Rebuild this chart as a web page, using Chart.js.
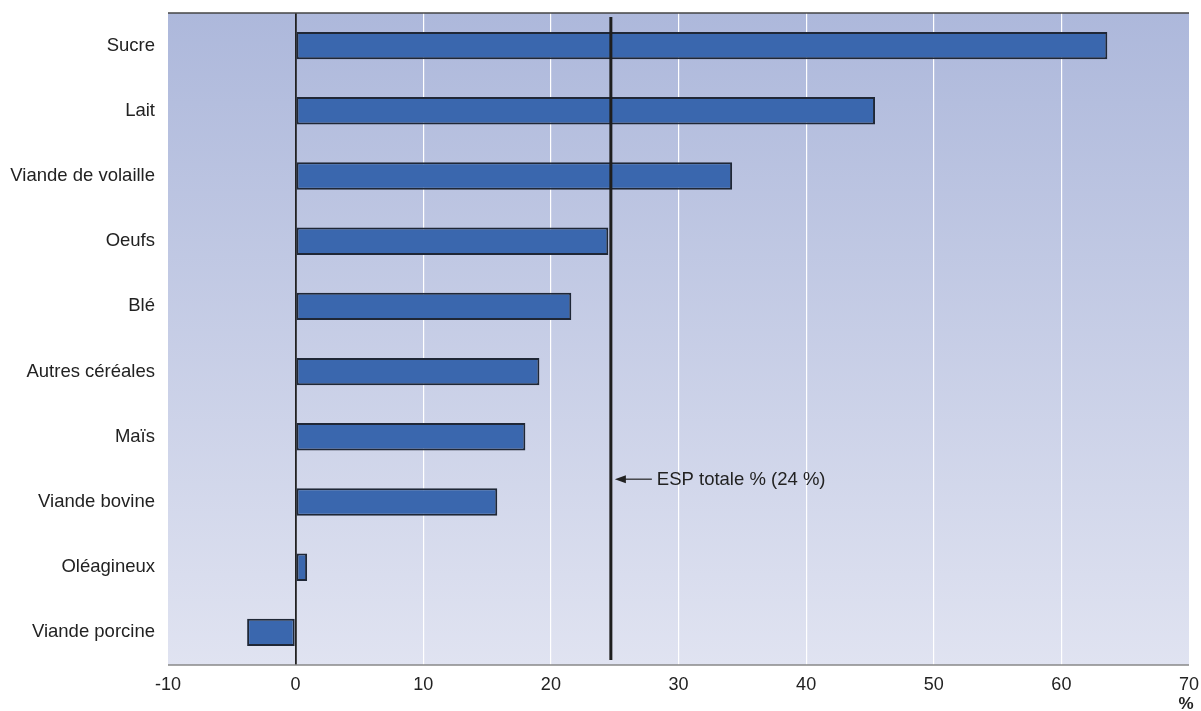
<!DOCTYPE html>
<html>
<head>
<meta charset="utf-8">
<script src="https://cdn.jsdelivr.net/npm/chart.js@4"></script>
<style>
  html, body { margin: 0; padding: 0; background: #ffffff; }
  #wrap { width: 1201px; height: 711px; }
</style>
</head>
<body>
<div id="wrap"><canvas id="c" width="1201" height="711"></canvas></div>
<script>
const categories = ["Sucre", "Lait", "Viande de volaille", "Oeufs", "Blé", "Autres céréales", "Maïs", "Viande bovine", "Oléagineux", "Viande porcine"];
const values = [63.6, 45.4, 34.2, 24.5, 21.6, 19.1, 18.0, 15.8, 0.9, -3.8];
const xTicks = [-10, 0, 10, 20, 30, 40, 50, 60, 70];
const espValue = 24.7;
const espLabel = "ESP totale % (24 %)";
const unitLabel = "%";

const FONT = "'Liberation Sans', Arial, Helvetica, sans-serif";

const decor = {
  id: 'decor',
  beforeDraw(chart) {
    const { ctx, chartArea: a } = chart;
    const g = ctx.createLinearGradient(0, a.top, 0, a.bottom);
    g.addColorStop(0, '#adb8db');
    g.addColorStop(1, '#e0e3f1');
    ctx.save();
    ctx.fillStyle = g;
    ctx.fillRect(a.left, a.top, a.right - a.left, a.bottom - a.top);
    ctx.restore();
  },
  afterDatasetsDraw(chart) {
    const { ctx, chartArea: a, scales } = chart;
    const x = scales.x.getPixelForValue(espValue);
    ctx.save();
    ctx.strokeStyle = '#1e1e1e';
    ctx.lineWidth = 3;
    ctx.beginPath();
    ctx.moveTo(x, a.top + 4);
    ctx.lineTo(x, a.bottom - 5);
    ctx.stroke();
    ctx.strokeStyle = '#444';
    ctx.lineWidth = 1.5;
    ctx.beginPath();
    ctx.moveTo(a.left, a.top);
    ctx.lineTo(a.right, a.top);
    ctx.stroke();
    ctx.strokeStyle = '#888';
    ctx.lineWidth = 1.5;
    ctx.beginPath();
    ctx.moveTo(a.left, a.bottom);
    ctx.lineTo(a.right, a.bottom);
    ctx.stroke();
    const y = scales.y.getPixelForValue(6.65);
    ctx.strokeStyle = '#222';
    ctx.fillStyle = '#222';
    ctx.lineWidth = 1.2;
    ctx.beginPath();
    ctx.moveTo(x + 14, y);
    ctx.lineTo(x + 41, y);
    ctx.stroke();
    ctx.beginPath();
    ctx.moveTo(x + 4, y);
    ctx.lineTo(x + 15, y - 4);
    ctx.lineTo(x + 15, y + 4);
    ctx.closePath();
    ctx.fill();
    ctx.font = '18.5px ' + FONT;
    ctx.textAlign = 'left';
    ctx.textBaseline = 'middle';
    ctx.fillText(espLabel, x + 46, y + 1);
    ctx.textAlign = 'center';
    ctx.font = 'bold 17px ' + FONT;
    ctx.fillText(unitLabel, scales.x.getPixelForValue(70) - 3, a.bottom + 39);
    ctx.restore();
  }
};

new Chart(document.getElementById('c'), {
  type: 'bar',
  data: {
    labels: categories,
    datasets: [{
      data: values,
      backgroundColor: '#3a67ae',
      borderColor: '#1f2736',
      borderWidth: 2,
      borderSkipped: false,
      categoryPercentage: 1,
      barPercentage: 0.42
    }]
  },
  options: {
    indexAxis: 'y',
    responsive: false,
    animation: false,
    devicePixelRatio: 1,
    layout: { padding: { top: 13, right: 12, left: 0, bottom: 0 } },
    plugins: { legend: { display: false }, tooltip: { enabled: false } },
    scales: {
      x: {
        type: 'linear',
        min: -10, max: 70,
        afterBuildTicks(s) { s.ticks = xTicks.map(v => ({ value: v })); },
        border: { display: false },
        grid: {
          drawTicks: false,
          color: c => c.tick.value === 0 ? '#222' : (c.tick.value === -10 || c.tick.value === 70 ? 'rgba(0,0,0,0)' : '#ffffff'),
          lineWidth: c => c.tick.value === 0 ? 1.8 : 1.2
        },
        ticks: { color: '#222', font: { family: FONT, size: 18 }, padding: 9, maxRotation: 0, autoSkip: false },
        afterFit(s) { s.height = 46; s.paddingLeft = 0; s.paddingRight = 0; s.paddingTop = 0; s.paddingBottom = 0; }
      },
      y: {
        border: { display: false },
        grid: { display: false, drawTicks: false },
        ticks: { color: '#222', font: { family: FONT, size: 18.5 }, padding: 13, autoSkip: false },
        afterFit(s) { s.width = 168; s.paddingLeft = 0; s.paddingRight = 0; s.paddingTop = 0; s.paddingBottom = 0; }
      }
    }
  },
  plugins: [decor]
});
</script>
</body>
</html>
